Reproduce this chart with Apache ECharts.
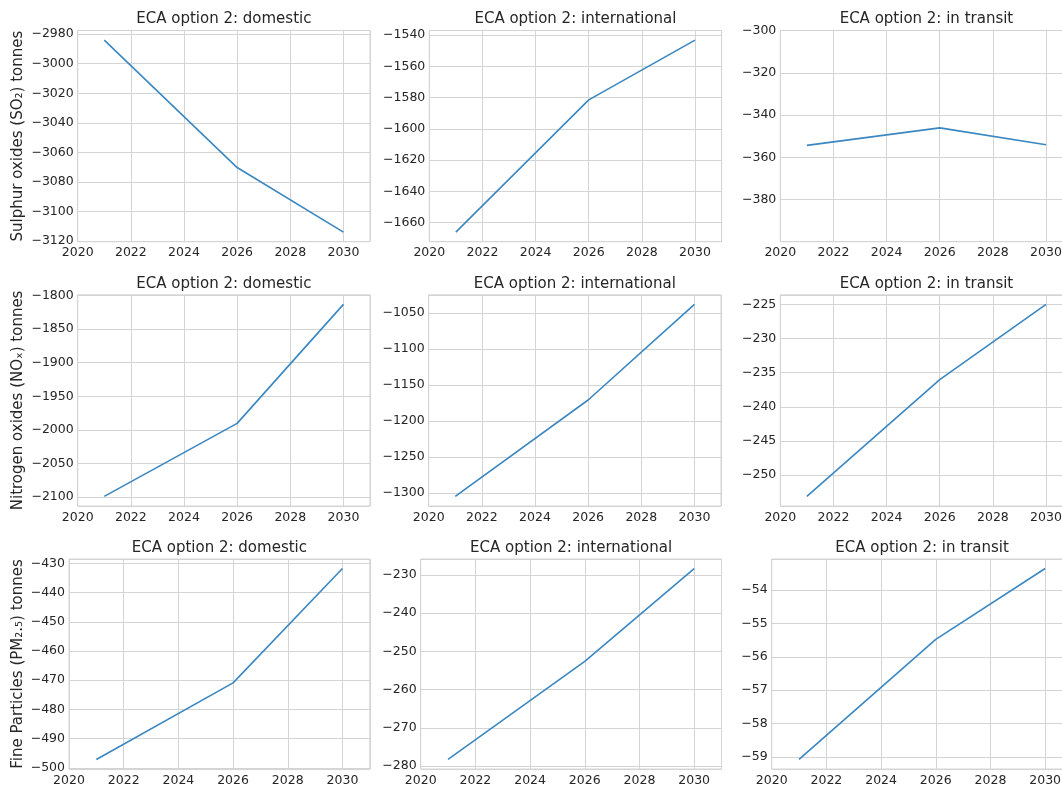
<!DOCTYPE html>
<html>
<head>
<meta charset="utf-8">
<title>ECA option 2 emission changes</title>
<script src="https://cdn.jsdelivr.net/npm/echarts@6/dist/echarts.min.js"></script>
<style>
  html, body { margin: 0; padding: 0; background: #ffffff; width: 1062px; height: 787px; overflow: hidden; }
  /* the canvas runs a little past the right edge so the last column is cut off */
  #chart { width: 1090px; height: 787px; }
</style>
</head>
<body>
<div id="chart"></div>
<script>
// Scenario years
const years = [2021, 2026, 2030];

// Panel titles per column
const columnTitles = ['ECA option 2: domestic', 'ECA option 2: international', 'ECA option 2: in transit'];

// Row labels (pollutant)
const rowLabels = ['Sulphur oxides (SO\u2082) tonnes', 'Nitrogen oxides (NO\u2093) tonnes', 'Fine Particles (PM\u2082.\u2085) tonnes'];

// Change in emissions, tonnes
const so2Domestic = [-2984, -3070.3, -3114];
const so2International = [-1666, -1581.4, -1543.2];
const so2Transit = [-354.3, -346, -354];
const noxDomestic = [-2099, -1990.3, -1813.3];
const noxInternational = [-1304.7, -1170.8, -1038];
const noxTransit = [-253.1, -236.0, -225.0];
const pmDomestic = [-497.1, -470.9, -431.8];
const pmInternational = [-278.3, -252.6, -228.3];
const pmTransit = [-59.07, -55.48, -53.36];

// Tick steps on each value axis
const so2Steps = [20, 20, 20];
const noxSteps = [50, 50, 5];
const pmSteps = [10, 10, 1];

// Year axis range and step
const yearRange = [2020, 2031];
const yearStep = 2;

// Fixed window for the in-transit SO2 panel (centre +/- 50)
const so2TransitLimits = [-399.9, -299.9];

const series2d = [
  [so2Domestic, so2International, so2Transit],
  [noxDomestic, noxInternational, noxTransit],
  [pmDomestic, pmInternational, pmTransit]
];
const steps2d = [so2Steps, noxSteps, pmSteps];

// Auto-scaled limits with 5% padding
function padded(vals) {
  const lo = Math.min.apply(null, vals), hi = Math.max.apply(null, vals);
  const pad = (hi - lo) * 0.05;
  return [lo - pad, hi + pad];
}

function isMultiple(v, step) {
  const q = v / step;
  return Math.abs(q - Math.round(q)) < 1e-6;
}
function fmtNum(v) {
  const s = String(Math.round(v * 1e6) / 1e6);
  return s.replace('-', '\u2212');
}

const FONT = 'DejaVu Sans';
const TEXT = '#262626';
const GRIDC = '#d4d4d4';
const LINE = '#3a87c1';

// Plot frames
const rowTops = [30.5, 294.8, 559];
const rowHeight = 211.2;
const rowLefts = [[77.7, 429.3, 780.3], [77.7, 428.7, 780.3], [69, 420.7, 771.7]];
const rowWidths = [292.3, 292.3, 300.8];
const titleTops = [11.5, 276.5, 540.5];
const nameGaps = [52, 52, 43];

const grids = [], xAxes = [], yAxes = [], seriesList = [], titles = [];

for (let r = 0; r < 3; r++) {
  for (let c = 0; c < 3; c++) {
    const idx = r * 3 + c;
    const vals = series2d[r][c];
    const step = steps2d[r][c];
    const lim = (r === 0 && c === 2) ? so2TransitLimits : padded(vals);
    const left = rowLefts[r][c];
    const width = rowWidths[r];

    grids.push({
      left: left, top: rowTops[r], width: width, height: rowHeight,
      show: true, borderColor: GRIDC, borderWidth: 1, backgroundColor: '#ffffff'
    });

    xAxes.push({
      type: 'value', gridIndex: idx,
      min: yearRange[0], max: yearRange[1], interval: yearStep,
      axisLine: { show: false }, axisTick: { show: false },
      splitLine: { show: true, lineStyle: { color: GRIDC, width: 1 } },
      axisLabel: {
        fontFamily: FONT, fontSize: 12.5, color: TEXT, margin: 5,
        formatter: function (v) { return isMultiple(v, yearStep) ? String(v) : ''; }
      }
    });

    yAxes.push({
      type: 'value', gridIndex: idx,
      min: lim[0], max: lim[1], minInterval: step, maxInterval: step, splitNumber: 7,
      axisLine: { show: false }, axisTick: { show: false },
      splitLine: { show: true, lineStyle: { color: GRIDC, width: 1 } },
      axisLabel: {
        fontFamily: FONT, fontSize: 12.5, color: TEXT, margin: 4,
        formatter: function (v) { return isMultiple(v, step) ? fmtNum(v) : ''; }
      },
      name: c === 0 ? rowLabels[r] : '',
      nameLocation: 'middle', nameRotate: 90, nameGap: nameGaps[r],
      nameTextStyle: { fontFamily: FONT, fontSize: 15, color: TEXT }
    });

    seriesList.push({
      type: 'line', xAxisIndex: idx, yAxisIndex: idx,
      data: years.map(function (y, i) { return [y, vals[i]]; }),
      showSymbol: false, symbol: 'none',
      lineStyle: { color: LINE, width: 1.6 },
      emphasis: { disabled: true }
    });

    titles.push({
      text: columnTitles[c],
      left: left + width / 2, top: titleTops[r],
      textAlign: 'center', padding: 0,
      textStyle: { fontFamily: FONT, fontSize: 15, fontWeight: 'normal', color: TEXT }
    });
  }
}

const chart = echarts.init(document.getElementById('chart'), null, { renderer: 'canvas' });
chart.setOption({
  animation: false,
  backgroundColor: '#ffffff',
  title: titles,
  grid: grids,
  xAxis: xAxes,
  yAxis: yAxes,
  series: seriesList
});
</script>
</body>
</html>
